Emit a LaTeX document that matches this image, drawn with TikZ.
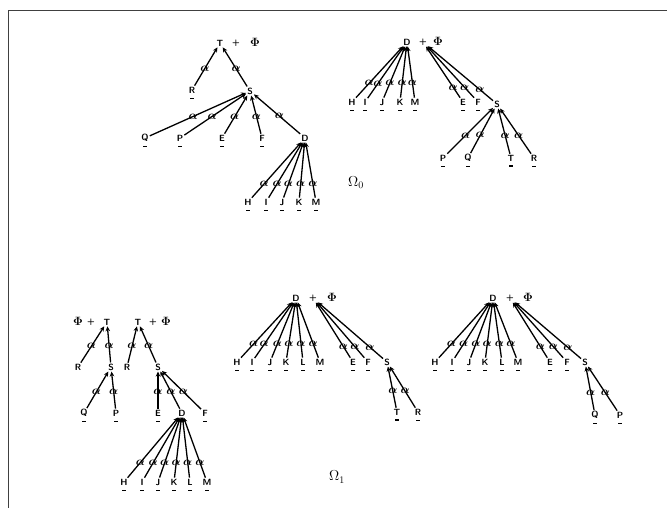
\documentclass[tikz,border=0pt]{standalone}
\usetikzlibrary{arrows.meta}
\tikzset{
  lab/.style={font=\sffamily\small\bfseries, inner sep=1pt},
  leafu/.style={lab, label={[inner sep=0pt, label distance=3pt]below:\rule{3.5pt}{1.2pt}}},
  phi/.style={font=\large\boldmath, inner sep=1pt},
  edge/.style={{Stealth[length=5pt,width=4.5pt]}-, line width=1.3pt},
  alf/.style={font=\large\boldmath, inner sep=0pt, pos=.55},
  omlab/.style={font=\Large, inner sep=1pt},
}
\begin{document}
\begin{tikzpicture}[x=1pt,y=-1pt]
  \useasboundingbox (0,0) rectangle (667,508);
  \draw[line width=0.8pt, black!75] (8,508) -- (8,10) -- (667,10);

  % Omega_0, first tree
  \node[lab] (aT) at (220,43) {T};
  \node[lab] (aPl) at (236,43) {+};
  \node[phi] (aPh) at (255,42) {$\Phi$};
  \node[leafu] (aR) at (192,90) {R};
  \node[lab] (aS) at (250,91) {S};
  \node[leafu] (aQ) at (145,138) {Q};
  \node[leafu] (aP) at (180,138) {P};
  \node[leafu] (aE) at (222,138) {E};
  \node[leafu] (aF) at (262,138) {F};
  \node[lab] (aD) at (305,138) {D};
  \foreach \n/\x in {H/248,I/266,J/282,K/299,M/316}
    \node[leafu] (a\n) at (\x,202) {\n};
  \draw[edge] (aT) -- node[alf]{$\alpha$} (aR);
  \draw[edge] (aT) -- node[alf]{$\alpha$} (aS);
  \foreach \c in {aQ,aP,aE,aF,aD}
    \draw[edge] (aS) -- node[alf]{$\alpha$} (\c);
  \foreach \n in {H,I,J,K,M}
    \draw[edge] (aD) -- node[alf,pos=.75]{$\alpha$} (a\n);

  % Omega_0, second tree
  \node[lab] (bD) at (407,42) {D};
  \node[lab] (bPl) at (423,42) {+};
  \node[phi] (bPh) at (438,41) {$\Phi$};
  \foreach \n/\x in {H/352,I/365,J/382,K/400,M/415}
    \node[leafu] (b\n) at (\x,102) {\n};
  \node[leafu] (bE) at (463,102) {E};
  \node[leafu] (bF) at (478,102) {F};
  \node[lab] (bS) at (497,104) {S};
  \foreach \n/\x in {P/443,Q/468,T/511,R/534}
    \node[leafu] (b\n) at (\x,158) {\n};
  \foreach \n in {H,I,J,K,M}
    \draw[edge] (bD) -- node[alf,pos=.72]{$\alpha$} (b\n);
  \foreach \n in {E,F,S}
    \draw[edge] (bPl) -- node[alf,pos=.8]{$\alpha$} (b\n);
  \foreach \n in {P,Q,T,R}
    \draw[edge] (bS) -- node[alf,pos=.6]{$\alpha$} (b\n);
  \node[omlab] (om0) at (356,183) {$\Omega_0$};

  % Omega_1, first tree
  \node[phi] (cPh) at (78,321) {$\Phi$};
  \node[lab] (cPl) at (91,322) {+};
  \node[lab] (cT) at (107,322) {T};
  \node[lab] (cR) at (78,367) {R};
  \node[lab] (cS) at (111,367) {S};
  \node[leafu] (cQ) at (84,413) {Q};
  \node[leafu] (cP) at (116,413) {P};
  \draw[edge] (cT) -- node[alf]{$\alpha$} (cR);
  \draw[edge] (cT) -- node[alf]{$\alpha$} (cS);
  \draw[edge] (cS) -- node[alf]{$\alpha$} (cQ);
  \draw[edge] (cS) -- node[alf]{$\alpha$} (cP);

  % Omega_1, second tree
  \node[lab] (dT) at (138,322) {T};
  \node[lab] (dPl) at (153,322) {+};
  \node[phi] (dPh) at (166,321) {$\Phi$};
  \node[lab] (dR) at (127,367) {R};
  \node[lab] (dS) at (158,367) {S};
  \node[leafu] (dE) at (158,413) {E};
  \node[lab] (dD) at (182,413) {D};
  \node[leafu] (dF) at (205,413) {F};
  \foreach \n/\x in {H/124,I/142,J/158,K/174,L/190,M/207}
    \node[leafu] (d\n) at (\x,482) {\n};
  \draw[edge] (dT) -- node[alf]{$\alpha$} (dR);
  \draw[edge] (dT) -- node[alf]{$\alpha$} (dS);
  \foreach \n in {E,D,F}
    \draw[edge] (dS) -- node[alf]{$\alpha$} (d\n);
  \foreach \n in {H,I,J,K,L,M}
    \draw[edge] (dD) -- node[alf,pos=.75]{$\alpha$} (d\n);

  % Omega_1, third tree
  \node[lab] (eD) at (296,298) {D};
  \node[lab] (ePl) at (313,298) {+};
  \node[phi] (ePh) at (332,297) {$\Phi$};
  \foreach \n/\x in {H/237,I/252,J/270,K/286,L/303,M/320}
    \node[leafu] (e\n) at (\x,362) {\n};
  \node[leafu] (eE) at (353,362) {E};
  \node[leafu] (eF) at (368,362) {F};
  \node[lab] (eS) at (387,362) {S};
  \node[leafu] (eT) at (397,412) {T};
  \node[leafu] (eR) at (418,412) {R};
  \foreach \n in {H,I,J,K,L,M}
    \draw[edge] (eD) -- node[alf,pos=.75]{$\alpha$} (e\n);
  \foreach \n in {E,F,S}
    \draw[edge] (ePl) -- node[alf,pos=.8]{$\alpha$} (e\n);
  \foreach \n in {T,R}
    \draw[edge] (eS) -- node[alf,pos=.6]{$\alpha$} (e\n);

  % Omega_1, fourth tree
  \node[lab] (fD) at (493,298) {D};
  \node[lab] (fPl) at (510,298) {+};
  \node[phi] (fPh) at (528,297) {$\Phi$};
  \foreach \n/\x in {H/435,I/452,J/469,K/485,L/502,M/518}
    \node[leafu] (f\n) at (\x,362) {\n};
  \node[leafu] (fE) at (550,362) {E};
  \node[leafu] (fF) at (567,362) {F};
  \node[lab] (fS) at (585,362) {S};
  \node[leafu] (fQ) at (595,415) {Q};
  \node[leafu] (fP) at (620,415) {P};
  \foreach \n in {H,I,J,K,L,M}
    \draw[edge] (fD) -- node[alf,pos=.75]{$\alpha$} (f\n);
  \foreach \n in {E,F,S}
    \draw[edge] (fPl) -- node[alf,pos=.8]{$\alpha$} (f\n);
  \foreach \n in {Q,P}
    \draw[edge] (fS) -- node[alf,pos=.6]{$\alpha$} (f\n);
  \node[omlab] (om1) at (337,477) {$\Omega_1$};
\end{tikzpicture}
\end{document}
